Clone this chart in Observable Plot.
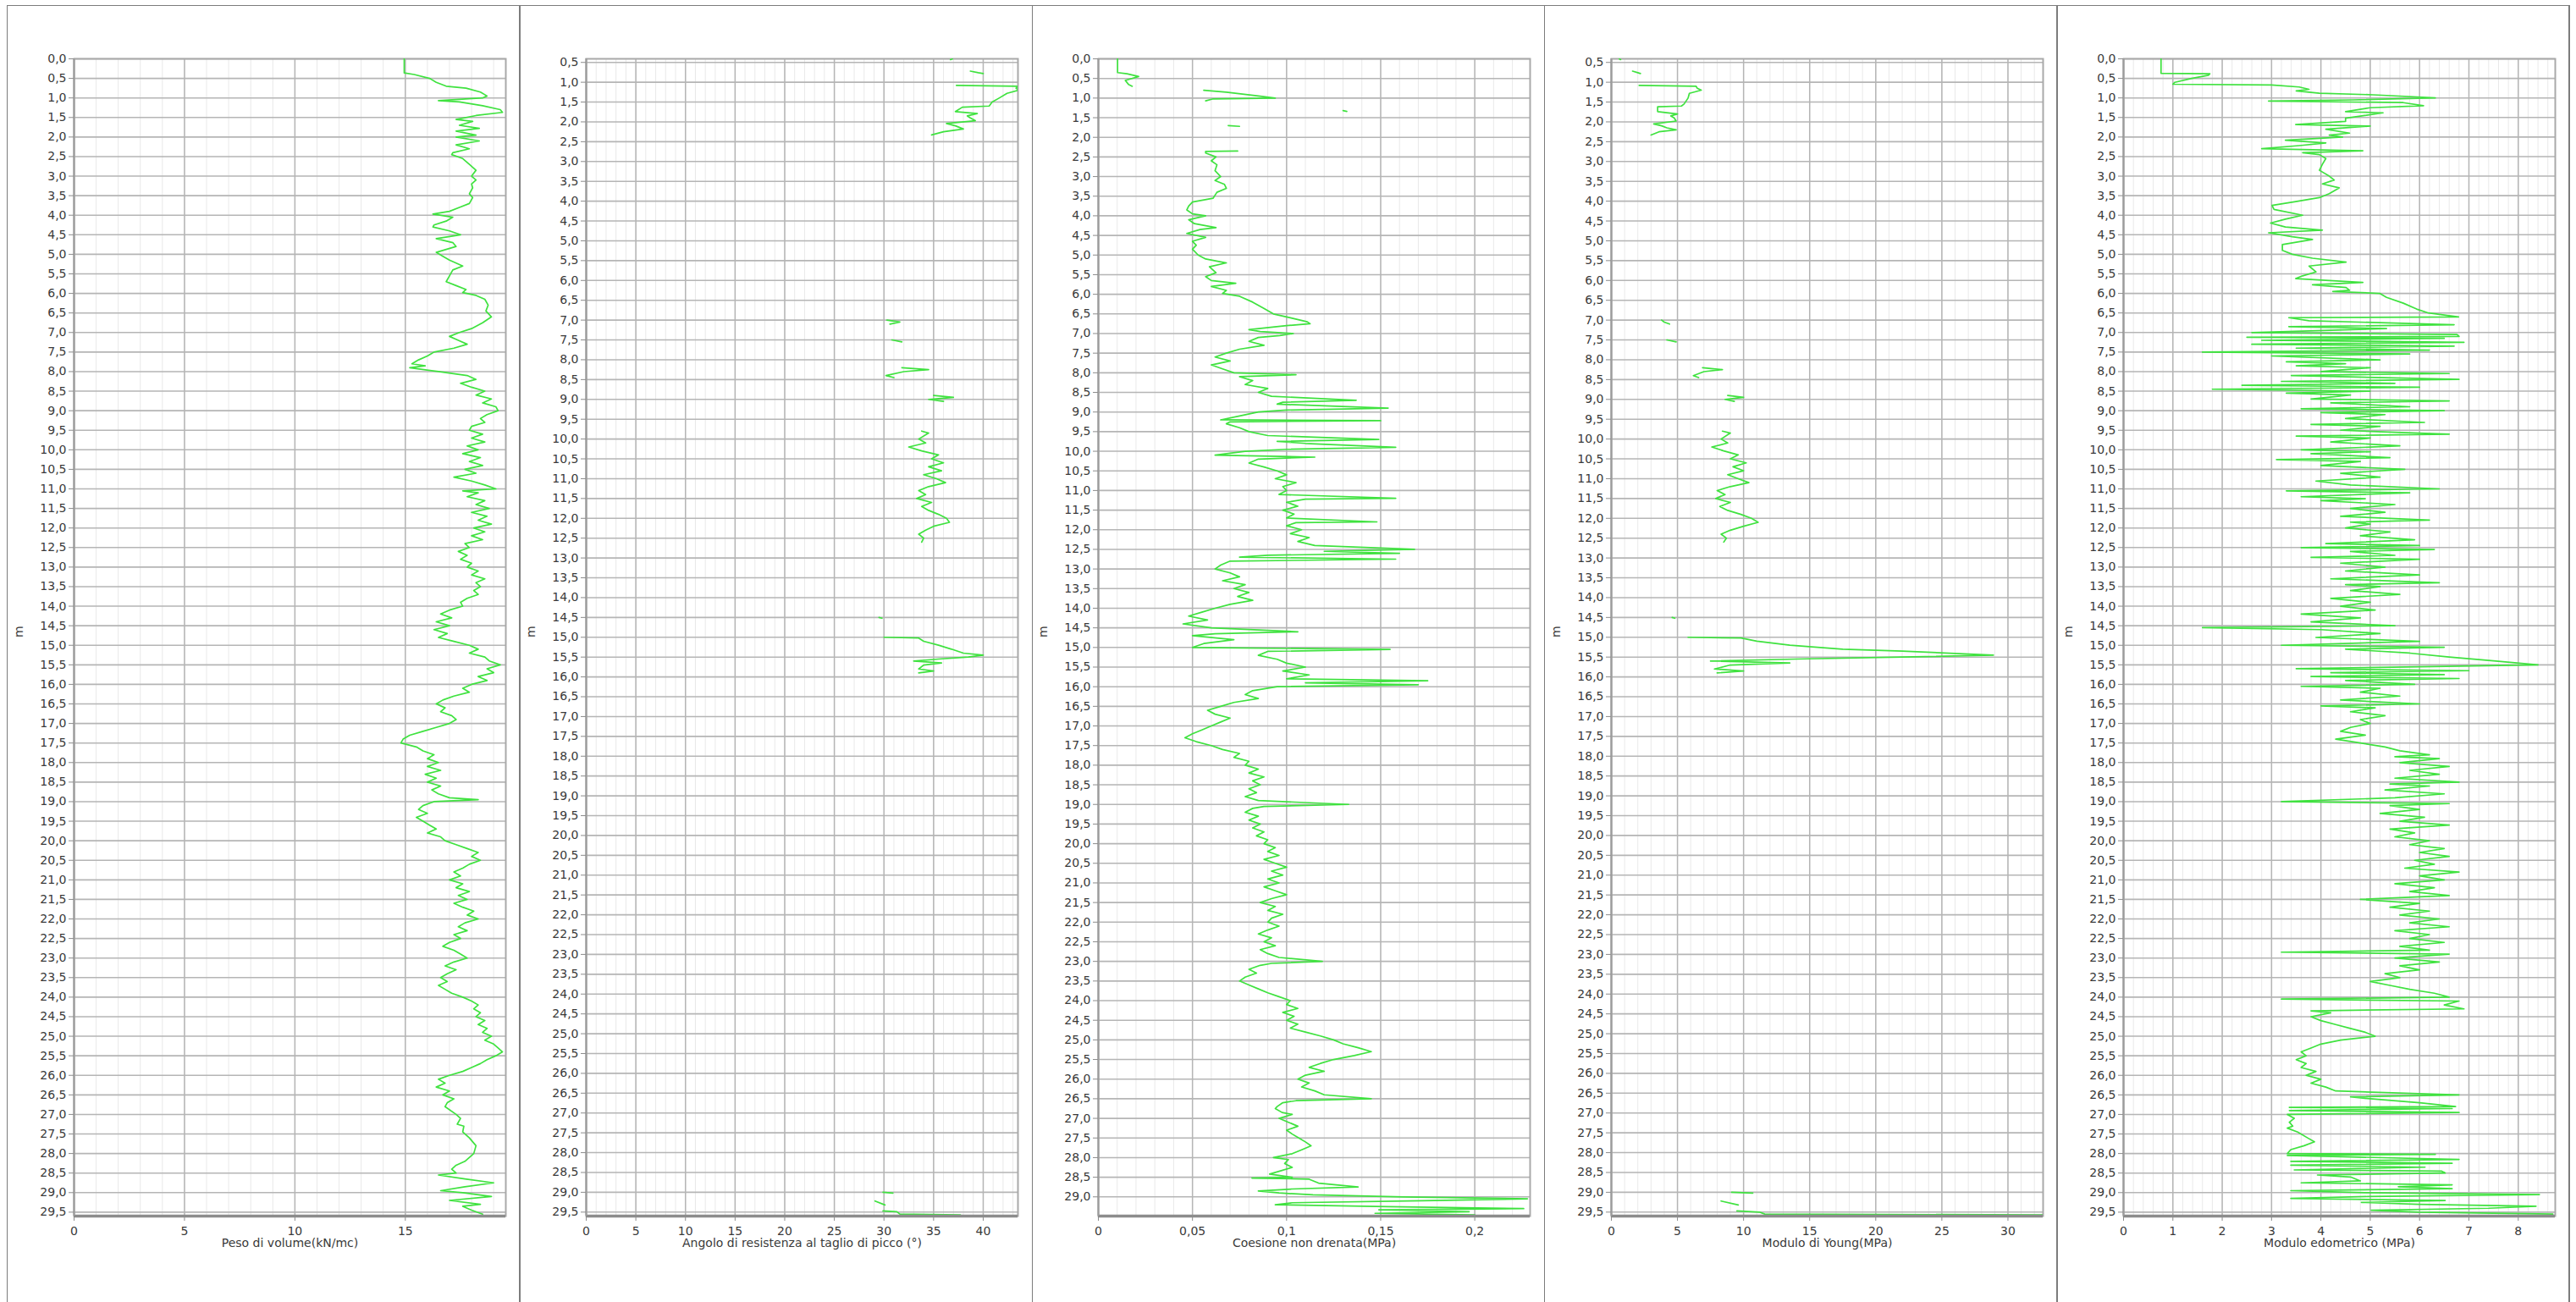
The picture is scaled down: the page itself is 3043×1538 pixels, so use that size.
<!DOCTYPE html>
<html><head><meta charset="utf-8">
<script src="https://cdn.jsdelivr.net/npm/d3@7"></script>
<script src="https://cdn.jsdelivr.net/npm/@observablehq/plot@0.6"></script>
<style>
html,body{margin:0;padding:0;background:#fff;}
#page{position:relative;width:3043px;height:1538px;background:#fff;overflow:hidden;}
.pn{position:absolute;top:6px;}
.ln{position:absolute;background:#7c7c7c;}
</style></head>
<body><div id="page"></div>
<script>
// ---- titles ----
const titles = ["Peso di volume(kN/mc)", "Angolo di resistenza al taglio di picco (°)", "Coesione non drenata(MPa)", "Modulo di Young(MPa)", "Modulo edometrico (MPa)"];
const yLabel = "m";
// ---- x tick labels / domains ----
const ticksPeso = [0,5,10,15];
const ticksAngolo = [0,5,10,15,20,25,30,35,40];
const ticksCoesione = [0,0.05,0.1,0.15,0.2];
const ticksYoung = [0,5,10,15,20,25,30];
const ticksEdo = [0,1,2,3,4,5,6,7,8];
const xMax = [19.55, 43.5, 0.2294, 32.66, 8.75];
const yMin = [0, 0.41, 0, 0.41, 0];
const yMax = [29.6, 29.6, 29.49, 29.6, 29.6];

// ---- series: [depth m, value] ----
const peso = [[0,14.95],[0.36,14.95],[0.4,15.4],[0.5,16.1],[0.6,16.4],[0.7,16.85],[0.75,17.75],[0.85,18.4],[0.95,18.7],[1.0,18.5],[1.07,16.5],[1.1,17.45],[1.2,18.5],[1.3,19.3],[1.37,19.4],[1.45,18.2],[1.55,17.3],[1.6,18.05],[1.7,17.45],[1.78,18.35],[1.85,17.3],[1.95,18.2],[2.0,17.3],[2.1,18.35],[2.2,17.3],[2.3,17.9],[2.4,17.15],[2.45,17.1],[2.55,17.6],[2.7,17.9],[2.85,18.2],[3.0,18.0],[3.1,18.2],[3.2,18.0],[3.3,18.05],[3.45,17.9],[3.55,18.05],[3.7,17.9],[3.8,17.45],[3.9,17.0],[3.97,16.25],[4.05,17.15],[4.15,16.85],[4.25,16.3],[4.3,16.25],[4.4,17.0],[4.5,17.5],[4.6,16.4],[4.7,17.15],[4.8,17.3],[4.95,16.4],[5.05,16.7],[5.15,17.0],[5.3,17.6],[5.4,17.15],[5.55,17.0],[5.7,16.85],[5.8,17.3],[5.9,17.75],[5.98,17.6],[6.05,18.2],[6.15,18.6],[6.3,18.75],[6.45,18.65],[6.6,18.9],[6.75,18.5],[6.9,18.0],[7.0,17.45],
[7.1,17.0],[7.2,17.4],[7.3,17.8],[7.4,17.2],[7.5,16.3],[7.6,16.0],[7.7,15.6],[7.8,15.3],[7.85,15.9],[7.9,15.2],[8.0,16.5],[8.1,17.8],[8.2,18.2],[8.3,17.5],[8.4,18.0],[8.5,18.6],[8.6,18.2],[8.7,18.9],[8.8,18.5],[8.9,19.1],[9.0,19.2],[9.1,18.7],[9.2,18.4],[9.3,18.6],[9.4,18.0],[9.5,17.9],[9.6,18.5],[9.7,18.0],[9.8,18.6],[9.9,17.8],[10.0,18.3],[10.1,17.6],[10.2,18.4],[10.3,17.9],[10.4,18.5],[10.5,17.7],[10.6,18.2],[10.7,17.2],[10.8,18.0],[10.9,18.6],[11.0,19.1],[11.05,17.6],[11.1,18.3],[11.2,17.8],[11.3,18.6],[11.4,18.2],[11.5,18.8],[11.6,18.0],[11.7,18.7],[11.8,18.3],[11.9,18.9],[12.0,18.1],[12.1,18.6],[12.2,18.0],[12.3,18.5],[12.4,17.7],[12.5,17.9],[12.6,17.4],[12.7,17.8],[12.8,17.5],[12.9,18.0],[13.0,17.8],[13.1,18.3],[13.2,18.0],[13.3,18.6],[13.4,18.2],[13.5,18.4],[13.6,18.1],[13.7,18.3],[13.8,17.8],[13.9,17.5],[14.0,17.6],[14.1,17.0],[14.2,16.6],[14.3,17.1],[14.4,16.4],[14.5,17.0],[14.6,16.3],[14.7,16.9],[14.8,16.5],[14.9,17.2],[15.0,17.9],[15.1,18.3],[15.2,17.9],[15.3,18.6],[15.4,18.8],[15.5,19.3],[15.6,18.7],[15.7,19.0],[15.8,18.3],[15.9,18.7],[16.0,18.0],[16.1,17.6],[16.2,17.9],[16.3,17.2],[16.4,16.7],[16.5,16.4],[16.6,16.8],[16.7,16.6],[16.8,17.1],[16.9,17.3],[17.0,17.0],[17.1,16.4],[17.2,15.8],[17.3,15.2],[17.4,14.9],[17.5,14.8],[17.6,15.5],[17.7,15.8],[17.8,16.3],[17.9,16.0],[18.0,16.5],[18.1,16.0],[18.2,16.6],[18.3,15.9],[18.4,16.4],[18.5,16.0],[18.6,16.6],[18.7,16.2],[18.8,16.5],[18.9,17.0],[18.95,18.3],[19.0,16.3],[19.1,15.8],[19.2,15.6],[19.3,16.0],[19.4,15.5],[19.5,15.8],[19.6,16.1],[19.7,16.4],[19.8,16.0],[19.9,16.6],[20.0,16.8],[20.1,17.3],[20.2,17.8],[20.3,18.3],[20.4,18.0],[20.5,18.4],[20.6,17.9],[20.7,17.6],[20.8,17.2],[20.9,17.5],[21.0,17.0],[21.1,17.6],[21.2,17.3],[21.3,17.9],[21.4,17.4],[21.5,17.8],[21.6,17.2],[21.7,17.6],[21.8,18.1],[21.9,17.8],[22.0,18.3],[22.1,17.7],[22.2,17.4],[22.3,17.8],[22.4,17.2],[22.5,17.5],[22.6,17.0],[22.7,16.7],[22.8,17.2],[22.9,17.5],[23.0,17.8],[23.1,17.2],[23.2,16.8],[23.3,17.3],[23.4,16.9],[23.5,16.6],[23.6,16.9],[23.7,16.5],[23.8,16.8],[23.9,17.1],[24.0,17.6],[24.1,18.0],[24.2,18.3],[24.3,18.1],[24.4,18.4],[24.5,18.2],[24.6,18.6],[24.7,18.3],[24.8,18.7],[24.9,18.5],[25.0,18.9],[25.1,18.6],[25.2,19.0],[25.3,19.2],[25.4,19.4],[25.5,19.1],[25.6,18.7],[25.7,18.4],[25.8,18.0],[25.9,17.6],[26.0,17.0],[26.1,16.5],[26.2,16.8],[26.3,16.4],[26.4,17.0],[26.5,16.7],[26.6,17.2],[26.7,16.9],
[26.8,16.8],[27.0,17.3],[27.1,17.5],[27.25,17.35],[27.3,17.65],[27.45,17.6],[27.6,17.9],[27.8,18.2],[28.0,18.1],[28.2,17.7],[28.3,17.3],[28.4,17.1],[28.5,17.3],[28.55,16.5],[28.65,17.7],[28.75,19.0],[28.85,17.7],[28.95,16.6],[29.0,17.6],[29.1,18.9],[29.2,17.0],[29.3,18.4],[29.35,17.6],[29.45,18.0],[29.55,18.5]];

const angolo = [[0.41,36.9],[0.43,36.7],[0.5,null],[0.72,38.7],[0.76,39.5],[0.78,40.0],[0.9,null],[1.08,37.3],[1.1,43.6],[1.15,43.3],[1.2,43.6],[1.28,42.4],[1.4,41.6],[1.5,40.9],[1.6,40.6],[1.63,37.9],[1.74,37.2],[1.79,39.4],[1.85,38.4],[1.9,38.7],[1.97,39.2],[2.04,36.3],[2.1,37.2],[2.18,38.0],[2.25,36.0],[2.33,34.8],[2.5,null],
[7.0,30.3],[7.05,31.6],[7.1,30.6],[7.3,null],[7.5,30.8],[7.55,31.8],[7.8,null],[8.2,31.8],[8.25,34.5],[8.3,32.0],[8.4,30.2],[8.45,31.0],[8.6,null],[8.9,35.0],[8.95,37.0],[9.0,34.5],[9.05,36.0],[9.3,null],
[9.8,33.8],[9.85,34.5],[10.0,33.5],[10.1,34.2],[10.2,32.5],[10.3,33.8],[10.4,35.5],[10.5,34.8],[10.6,36.0],[10.7,34.5],[10.8,35.8],[10.9,34.0],[11.0,35.3],[11.1,36.2],[11.2,34.5],[11.3,33.5],[11.4,34.2],[11.5,33.3],[11.6,34.8],[11.7,33.8],[11.8,34.5],[11.9,35.5],[12.0,36.3],[12.1,36.6],[12.2,35.0],[12.3,34.2],[12.4,33.5],[12.5,34.0],[12.6,33.8],[12.8,null],
[14.5,29.5],[14.52,29.8],[14.7,null],[15.0,30.0],[15.02,33.5],[15.1,34.0],[15.2,35.5],[15.3,36.8],[15.4,38.0],[15.45,40.0],[15.5,38.5],[15.55,35.5],[15.6,33.0],[15.65,35.8],[15.7,34.0],[15.8,33.5],[15.85,35.0],[15.9,33.5],[16.1,null],
[29.0,29.9],[29.02,30.9],[29.1,null],[29.22,29.1],[29.32,30.1],[29.4,null],[29.47,29.9],[29.49,31.3],[29.55,31.6],[29.57,37.7]];

const coesione = [[0,0.0102],[0.35,0.0102],[0.38,0.0152],[0.45,0.0214],[0.55,0.0143],[0.65,0.016],[0.7,0.018],[0.75,null],[0.8,0.056],[0.85,0.068],[0.95,0.086],[1.0,0.094],[1.02,0.061],[1.07,0.057],[1.2,null],[1.32,0.130],[1.34,0.132],[1.5,null],[1.7,0.069],[1.72,0.075],[2.0,null],
[2.35,0.074],[2.36,0.057],[2.4,0.057],[2.5,0.0625],[2.6,0.060],[2.7,0.063],[2.85,0.062],[3.0,0.065],[3.1,0.062],[3.2,0.067],[3.3,0.068],[3.4,0.063],[3.55,0.061],[3.65,0.050],[3.75,0.048],[3.85,0.047],[3.95,0.050],[4.0,0.057],[4.1,0.048],[4.2,0.051],[4.3,0.0625],[4.35,0.054],[4.45,0.047],[4.55,0.057],[4.65,0.050],[4.75,0.052],[4.85,0.050],[5.0,0.053],[5.1,0.057],[5.2,0.068],[5.3,0.059],[5.45,0.0625],[5.55,0.057],[5.65,0.060],[5.72,0.073],[5.8,0.060],[5.9,0.068],[5.98,0.066],[6.05,0.075],[6.2,0.082],[6.35,0.0875],[6.5,0.093],[6.6,0.102],[6.7,0.111],[6.75,0.1125],[6.8,0.100],[6.9,0.080],[6.95,0.086],[7.0,0.1036],[7.05,0.0964],
[7.1,0.085],[7.2,0.080],[7.3,0.088],[7.4,0.075],[7.5,0.068],[7.6,0.062],[7.7,0.070],[7.8,0.060],[7.9,0.066],[8.0,0.072],[8.05,0.105],[8.1,0.075],[8.2,0.082],[8.3,0.078],[8.4,0.090],[8.5,0.085],[8.6,0.092],[8.7,0.137],[8.75,0.098],[8.8,0.095],[8.9,0.154],[8.95,0.100],[9.0,0.085],[9.1,0.075],[9.2,0.065],[9.22,0.150],[9.25,0.070],[9.3,0.068],[9.4,0.075],[9.5,0.080],[9.6,0.090],[9.7,0.149],[9.75,0.095],[9.8,0.110],[9.9,0.158],[9.95,0.100],[10.0,0.078],[10.1,0.062],[10.15,0.115],[10.2,0.085],[10.3,0.080],[10.4,0.088],[10.5,0.095],[10.6,0.100],[10.7,0.094],[10.8,0.105],[10.9,0.098],[11.0,0.100],[11.1,0.096],[11.2,0.158],[11.22,0.110],[11.3,0.100],[11.4,0.106],[11.5,0.098],[11.6,0.104],[11.7,0.100],[11.8,0.148],[11.82,0.105],[11.9,0.100],[12.0,0.108],[12.1,0.102],[12.2,0.112],[12.3,0.106],[12.4,0.115],[12.5,0.168],[12.55,0.120],[12.6,0.160],[12.65,0.090],[12.7,0.075],[12.75,0.158],[12.8,0.070],[12.9,0.065],[13.0,0.062],[13.1,0.070],[13.2,0.075],[13.3,0.066],[13.4,0.078],[13.5,0.072],[13.6,0.080],[13.7,0.074],[13.8,0.082],[13.9,0.070],[14.0,0.062],[14.1,0.055],[14.2,0.048],[14.3,0.058],[14.4,0.045],[14.5,0.060],[14.6,0.106],[14.65,0.062],[14.7,0.050],[14.8,0.072],[14.9,0.056],[15.0,0.050],[15.05,0.155],[15.1,0.090],[15.2,0.085],[15.3,0.095],[15.4,0.100],[15.5,0.110],[15.6,0.098],[15.7,0.112],[15.8,0.100],[15.85,0.175],[15.9,0.110],[15.95,0.170],[16.0,0.095],[16.1,0.082],[16.2,0.078],[16.3,0.085],[16.4,0.072],[16.5,0.065],[16.6,0.058],[16.7,0.062],[16.8,0.070],[16.9,0.065],[17.0,0.060],[17.1,0.055],[17.2,0.050],[17.3,0.046],[17.4,0.052],[17.5,0.060],[17.6,0.066],[17.7,0.075],[17.8,0.072],[17.9,0.080],[18.0,0.078],[18.1,0.085],[18.2,0.080],[18.3,0.088],[18.4,0.082],[18.5,0.086],[18.6,0.080],[18.7,0.084],[18.8,0.078],[18.9,0.085],[19.0,0.133],[19.05,0.088],[19.1,0.082],[19.2,0.078],[19.3,0.085],[19.4,0.080],[19.5,0.086],[19.6,0.082],[19.7,0.088],[19.8,0.084],[19.9,0.090],[20.0,0.088],[20.1,0.094],[20.2,0.090],[20.3,0.096],[20.4,0.088],[20.5,0.094],[20.6,0.100],[20.7,0.092],[20.8,0.098],[20.9,0.090],[21.0,0.096],[21.1,0.088],[21.2,0.094],[21.3,0.100],[21.4,0.092],[21.5,0.086],[21.6,0.094],[21.7,0.090],[21.8,0.098],[21.9,0.092],[22.0,0.090],[22.1,0.096],[22.2,0.090],[22.3,0.085],[22.4,0.092],[22.5,0.088],[22.6,0.094],[22.7,0.086],[22.8,0.090],[22.9,0.096],[23.0,0.119],[23.05,0.092],[23.1,0.086],[23.2,0.080],[23.3,0.084],[23.4,0.078],[23.5,0.075],[23.6,0.080],[23.7,0.085],[23.8,0.090],[23.9,0.096],[24.0,0.102],[24.1,0.100],[24.2,0.106],[24.3,0.098],[24.4,0.104],[24.5,0.100],[24.6,0.106],[24.7,0.102],[24.8,0.110],[24.9,0.118],[25.0,0.125],[25.1,0.130],[25.2,0.138],[25.3,0.145],[25.4,0.136],[25.5,0.125],[25.6,0.118],[25.7,0.112],[25.8,0.120],[25.9,0.110],[26.0,0.106],[26.1,0.112],[26.2,0.108],[26.3,0.115],[26.4,0.120],[26.5,0.145],[26.55,0.105],[26.6,0.098],[26.7,0.095],
[26.75,0.094],[26.85,0.0976],[26.9,0.103],[27.0,0.096],[27.1,0.101],[27.2,0.106],[27.3,0.100],[27.4,0.103],[27.5,0.1065],[27.6,0.110],[27.7,0.113],[27.8,0.108],[27.9,0.103],[28.0,0.093],[28.05,0.101],[28.15,0.099],[28.25,0.103],[28.35,0.096],[28.42,0.091],[28.5,0.103],[28.52,0.0816],[28.55,0.112],[28.65,0.117],[28.75,0.138],[28.8,0.103],[28.85,0.085],[28.9,0.096],[28.95,0.114],[29.0,0.162],[29.05,0.228],[29.1,0.172],[29.15,0.103],[29.2,0.094],[29.25,0.154],[29.3,0.226],[29.33,0.149],[29.38,0.197],[29.42,0.147],[29.46,0.200]];

const young = [[0.41,0.6],[0.43,0.7],[0.5,null],[0.72,1.6],[0.76,2.0],[0.78,2.2],[0.9,null],[1.08,2.1],[1.1,6.4],[1.15,6.5],[1.2,6.8],[1.28,5.9],[1.4,5.8],[1.55,5.5],[1.6,5.3],[1.62,3.5],[1.74,3.5],[1.8,5.0],[1.85,4.5],[1.9,4.75],[1.98,4.9],[2.05,3.2],[2.1,3.8],[2.15,4.2],[2.2,4.9],[2.25,3.6],[2.33,3.0],[2.5,null],
[7.0,3.8],[7.05,4.0],[7.1,4.4],[7.3,null],[7.5,4.2],[7.55,4.9],[7.8,null],[8.2,6.9],[8.25,8.4],[8.3,7.0],[8.4,6.2],[8.45,6.6],[8.6,null],[8.9,8.8],[8.95,10.0],[9.0,8.6],[9.05,9.3],[9.3,null],
[9.8,8.4],[9.85,9.0],[10.0,8.3],[10.1,8.8],[10.2,7.6],[10.3,8.5],[10.4,9.6],[10.5,9.0],[10.6,10.2],[10.7,9.2],[10.8,10.0],[10.9,8.8],[11.0,9.6],[11.1,10.4],[11.2,9.0],[11.3,8.0],[11.4,8.6],[11.5,7.9],[11.6,9.0],[11.7,8.2],[11.8,8.8],[11.9,9.8],[12.0,10.6],[12.1,11.1],[12.2,10.0],[12.3,9.0],[12.4,8.3],[12.5,8.7],[12.6,8.5],[12.8,null],
[14.5,4.6],[14.52,4.8],[14.7,null],[15.0,5.8],[15.02,9.8],[15.1,11.0],[15.2,13.5],[15.3,17.5],[15.35,22.0],[15.45,28.9],[15.5,22.0],[15.55,14.0],[15.6,7.5],[15.65,13.5],[15.7,9.0],[15.8,7.8],[15.85,10.0],[15.9,8.0],[16.1,null],
[29.0,9.1],[29.02,10.7],[29.1,null],[29.22,8.3],[29.32,9.6],[29.4,null],[29.47,9.5],[29.5,11.2],[29.55,11.6],[29.57,33.0]];

const edometrico = [[0,0.76],[0.37,0.76],[0.38,1.75],[0.42,1.72],[0.5,1.38],[0.6,1.04],[0.65,1.0],[0.67,3.0],[0.72,3.56],[0.78,3.76],[0.82,3.5],[0.88,3.97],[0.92,5.06],[1.0,6.32],[1.05,4.65],[1.08,2.94],[1.12,5.67],[1.2,6.08],[1.25,5.0],[1.35,4.5],[1.38,5.26],[1.45,4.89],[1.52,4.5],[1.6,4.5],[1.68,3.49],[1.72,5.0],[1.8,4.1],[1.9,4.58],[1.95,4.17],[2.0,4.44],[2.08,3.28],[2.15,4.1],[2.22,3.56],[2.3,2.8],[2.35,4.85],[2.4,3.63],[2.45,3.97],[2.55,4.1],[2.7,4.03],[2.85,3.97],[3.0,4.17],[3.1,4.27],[3.2,4.03],[3.3,4.37],[3.45,4.17],[3.55,3.97],[3.65,3.49],[3.75,3.01],[3.85,3.05],[4.0,3.63],[4.1,3.28],[4.2,2.98],[4.3,3.28],[4.38,4.03],[4.45,2.94],[4.55,3.42],[4.62,3.83],[4.75,3.22],[4.9,3.22],[5.0,3.42],[5.1,3.83],[5.2,4.51],[5.3,3.76],[5.45,3.9],[5.55,3.63],[5.62,3.49],[5.72,4.85],[5.78,3.83],[5.85,4.51],[5.92,4.58],[5.95,4.24],[6.0,5.19],[6.1,5.33],[6.25,5.67],[6.4,5.94],[6.5,6.18],[6.6,6.79],[6.62,3.35],[6.7,3.76],[6.8,6.7],[6.85,3.35],[6.9,5.33],[7.0,2.6],[7.05,6.76],
[7.1,6.8],[7.12,2.5],[7.15,6.5],[7.2,2.8],[7.25,6.9],[7.3,2.6],[7.35,6.7],[7.4,3.5],[7.45,6.2],[7.5,1.6],[7.55,5.8],[7.6,3.0],[7.7,5.2],[7.75,3.3],[7.8,4.5],[7.85,3.5],[7.9,5.0],[8.0,4.0],[8.05,6.6],[8.1,3.4],[8.2,6.8],[8.25,3.2],[8.3,5.5],[8.35,2.4],[8.4,6.0],[8.45,1.8],[8.5,5.0],[8.55,3.3],[8.6,4.6],[8.7,3.8],[8.75,6.6],[8.8,4.2],[8.9,5.8],[8.95,3.6],[9.0,6.5],[9.05,4.0],[9.1,5.3],[9.2,4.5],[9.3,6.1],[9.35,3.8],[9.4,5.2],[9.5,4.4],[9.6,6.6],[9.65,3.5],[9.7,5.0],[9.8,4.2],[9.9,5.6],[10.0,3.6],[10.05,5.0],[10.1,3.8],[10.2,5.4],[10.25,3.1],[10.3,4.8],[10.4,4.0],[10.5,5.7],[10.6,4.4],[10.7,5.2],[10.8,3.9],[10.9,4.6],[11.0,6.4],[11.05,3.3],[11.1,5.8],[11.2,3.6],[11.25,4.9],[11.3,4.0],[11.4,5.5],[11.5,4.6],[11.6,5.3],[11.7,4.4],[11.8,6.2],[11.85,4.6],[11.9,5.0],[12.0,4.5],[12.1,5.4],[12.2,4.8],[12.3,5.9],[12.4,4.1],[12.45,6.0],[12.5,3.6],[12.55,6.3],[12.6,4.6],[12.7,5.5],[12.75,3.8],[12.8,6.0],[12.9,4.4],[13.0,5.3],[13.1,4.5],[13.2,6.0],[13.3,4.2],[13.4,6.4],[13.45,4.5],[13.5,5.2],[13.6,4.6],[13.7,5.6],[13.8,4.2],[13.9,5.0],[14.0,4.4],[14.1,5.1],[14.2,3.6],[14.3,4.8],[14.4,3.8],[14.5,5.5],[14.55,1.6],[14.6,4.0],[14.7,5.2],[14.8,3.9],[14.9,6.0],[15.0,3.2],[15.05,6.5],[15.1,4.5],[15.2,5.8],[15.3,6.6],[15.4,7.5],[15.5,8.4],[15.55,6.0],[15.6,3.5],[15.65,7.0],[15.7,4.2],[15.75,6.5],[15.8,3.8],[15.85,6.8],[15.9,4.5],[16.0,5.9],[16.05,3.6],[16.1,5.2],[16.2,4.8],[16.3,5.6],[16.4,4.4],[16.5,6.0],[16.55,4.0],[16.6,5.1],[16.7,4.6],[16.8,5.3],[16.9,4.8],[17.0,5.0],[17.1,4.6],[17.2,4.4],[17.3,4.9],[17.4,4.3],[17.5,4.8],[17.6,5.3],[17.7,5.6],[17.8,6.2],[17.85,5.5],[17.9,6.4],[18.0,5.6],[18.1,6.6],[18.2,5.8],[18.3,6.4],[18.4,5.5],[18.5,6.8],[18.55,5.4],[18.6,6.2],[18.7,5.3],[18.8,6.5],[18.9,5.5],[19.0,3.2],[19.05,6.6],[19.1,5.4],[19.2,6.0],[19.3,5.2],[19.4,6.1],[19.5,5.6],[19.6,6.6],[19.7,5.4],[19.8,5.9],[19.9,5.5],[20.0,6.2],[20.1,5.8],[20.2,6.5],[20.3,6.0],[20.4,6.6],[20.5,5.9],[20.6,6.3],[20.7,5.7],[20.8,6.8],[20.9,6.0],[21.0,6.5],[21.1,5.5],[21.2,6.3],[21.3,5.8],[21.4,6.6],[21.5,4.8],[21.6,6.0],[21.7,5.4],[21.8,6.2],[21.9,5.6],[22.0,6.4],[22.1,5.8],[22.2,6.6],[22.3,5.5],[22.4,6.2],[22.5,5.8],[22.6,6.5],[22.7,5.6],[22.8,6.2],[22.85,3.2],[22.9,6.6],[23.0,5.5],[23.1,6.4],[23.2,5.6],[23.3,6.0],[23.4,5.3],[23.5,5.6],[23.6,5.0],[23.7,5.4],[23.8,5.8],[23.9,6.3],[24.0,6.6],[24.05,3.2],[24.1,6.8],[24.2,6.5],[24.3,6.9],[24.35,3.8],[24.4,4.2],[24.5,3.8],[24.6,4.0],[24.7,4.3],[24.8,4.6],[24.9,4.9],[25.0,5.1],[25.1,4.4],[25.2,4.0],[25.3,3.8],[25.4,3.6],[25.5,3.7],[25.6,3.5],[25.7,3.7],[25.8,3.6],[25.9,3.9],[26.0,3.7],[26.1,4.0],[26.2,3.8],[26.3,4.1],[26.4,4.3],[26.5,6.8],[26.55,4.6],[26.6,5.0],[26.7,6.0],
[26.8,6.73],[26.82,3.36],[26.85,6.66],[26.9,3.36],[26.95,6.8],[27.0,3.32],[27.1,3.46],[27.2,3.36],[27.3,3.43],[27.35,3.32],[27.45,3.53],[27.6,3.73],[27.7,3.87],[27.8,3.66],[27.9,3.39],[28.0,3.32],[28.02,6.32],[28.05,3.32],[28.15,6.8],[28.2,3.39],[28.25,6.66],[28.3,3.39],[28.35,6.11],[28.42,3.46],[28.45,6.45],[28.5,6.52],[28.55,3.93],[28.6,4.6],[28.7,4.8],[28.75,3.6],[28.8,6.66],[28.85,5.57],[28.9,6.66],[28.95,3.39],[29.0,4.89],[29.05,8.43],[29.1,4.96],[29.15,3.39],[29.2,6.52],[29.25,4.82],[29.3,5.98],[29.35,8.36],[29.4,7.4],[29.45,5.02],[29.5,5.98],[29.55,8.7]];

// ---- layout (frame lines and panels) ----
const page = document.getElementById("page");
const dividers = [8.7, 614, 1219.3, 1824.6, 2429.9, 3035.2];
function line(l, t, w, h) { const d = document.createElement("div"); d.className = "ln"; Object.assign(d.style, {left: l + "px", top: t + "px", width: w + "px", height: h + "px"}); page.appendChild(d); }
line(8, 5.5, 3028, 1.5);
dividers.forEach(x => line(x - 0.75, 5.5, 1.5, 1540));

const fmtY = d => d.toFixed(1).replace(".", ",");
const fmtX = d => String(d).replace(".", ",");
function range(a, b, s) { const r = []; for (let v = a; v <= b + 1e-9; v += s) r.push(+v.toFixed(6)); return r; }

const series = [peso, angolo, coesione, young, edometrico];
const xTicksAll = [ticksPeso, ticksAngolo, ticksCoesione, ticksYoung, ticksEdo];
const minorStep = [1, 1, 0.01, 1, 0.2];
const FONT = "DejaVu Sans, Verdana, sans-serif";
const TXT = "#3a3a3a";

series.forEach((data, i) => {
  const xDomain = [0, xMax[i]];
  const yDomain = [yMin[i], yMax[i]];
  const yTicks = range(Math.ceil(yMin[i] * 2) / 2, yMax[i], 0.5);
  const xMinor = range(0, xMax[i], minorStep[i]);
  const chart = Plot.plot({
    width: 605, height: 1532,
    marginLeft: 78, marginRight: 17, marginTop: 63, marginBottom: 102,
    style: {fontFamily: FONT, fontSize: "14px", color: TXT, background: "transparent", overflow: "visible"},
    x: {domain: xDomain},
    y: {domain: yDomain, reverse: true},
    marks: [
      Plot.gridX(xMinor, {stroke: "#e9e9e9", strokeOpacity: 1, strokeWidth: 1}),
      Plot.gridX(xTicksAll[i], {stroke: "#b5b5b5", strokeOpacity: 1, strokeWidth: 1.5}),
      Plot.gridY(yTicks, {stroke: "#b5b5b5", strokeOpacity: 1, strokeWidth: 1.6}),
      Plot.frame({stroke: "#a9a9a9", strokeWidth: 2}),
      Plot.line(data, {x: d => d[1], y: d => d[0], stroke: "#3fe23f", strokeWidth: 1.7, clip: true}),
      Plot.ruleY([yDomain[1]], {stroke: "#8c8c8c", strokeWidth: 3.5}),
      Plot.ruleX([0], {stroke: "#9c9c9c", strokeWidth: 2}),
      Plot.axisX({ticks: xTicksAll[i], tickFormat: fmtX, tickSize: 6, tickPadding: 7, label: null, stroke: "#8c8c8c", fill: TXT}),
      Plot.axisY({ticks: yTicks, tickFormat: fmtY, tickSize: 6, tickPadding: 3, label: null, stroke: "#8c8c8c", fill: TXT}),
      Plot.text([titles[i]], {frameAnchor: "bottom", dy: 36, fontSize: 14, fill: TXT, fontFamily: FONT}),
      Plot.text([yLabel], {frameAnchor: "left", dx: -65, rotate: -90, fontSize: 14, fill: TXT, fontFamily: FONT})
    ]
  });
  const wrap = document.createElement("div");
  wrap.className = "pn";
  wrap.style.left = dividers[i] + "px";
  wrap.appendChild(chart);
  page.appendChild(wrap);
});
</script>
</body></html>
